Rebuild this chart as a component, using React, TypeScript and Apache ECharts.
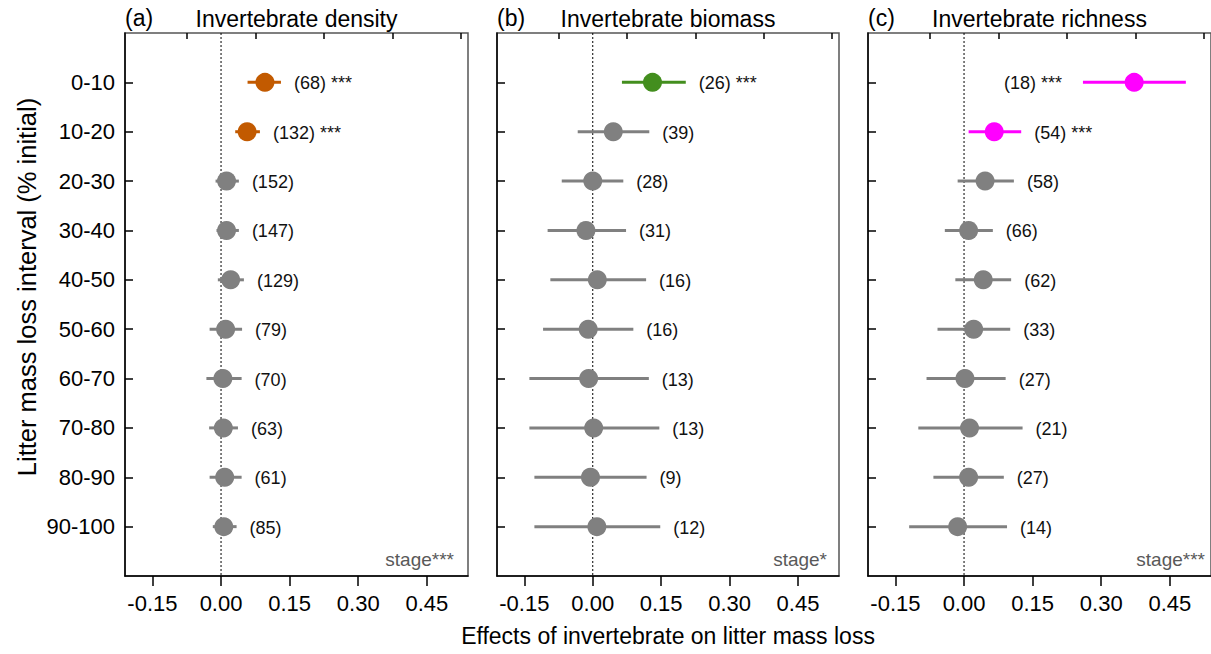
import React, { useEffect, useRef } from 'react';
import * as echarts from 'echarts';

const intervals = ['0-10', '10-20', '20-30', '30-40', '40-50', '50-60', '60-70', '70-80', '80-90', '90-100'];
const panelTags = ['(a)', '(b)', '(c)'];
const panelTitles = ['Invertebrate density', 'Invertebrate biomass', 'Invertebrate richness'];
const stageLabels = ['stage***', 'stage*', 'stage***'];
const majorTicks = [-0.15, 0, 0.15, 0.3, 0.45];
const minorTicks = [-0.075, 0.075, 0.225, 0.375, 0.525];
const rowPositions = [1, 2, 3, 4, 5, 6, 7, 8, 9, 10];

const densityMean = [0.096, 0.057, 0.012, 0.012, 0.021, 0.010, 0.004, 0.005, 0.008, 0.006];
const densityLower = [0.058, 0.031, -0.012, -0.010, -0.007, -0.025, -0.032, -0.026, -0.025, -0.018];
const densityUpper = [0.131, 0.085, 0.039, 0.039, 0.050, 0.046, 0.045, 0.037, 0.045, 0.034];
const densityN = [68, 132, 152, 147, 129, 79, 70, 63, 61, 85];
const densitySig = ['***', '***', '', '', '', '', '', '', '', ''];

const biomassMean = [0.131, 0.045, 0.000, -0.015, 0.010, -0.010, -0.009, 0.002, -0.005, 0.009];
const biomassLower = [0.064, -0.033, -0.068, -0.099, -0.093, -0.109, -0.139, -0.139, -0.128, -0.128];
const biomassUpper = [0.204, 0.124, 0.067, 0.073, 0.117, 0.089, 0.123, 0.146, 0.118, 0.148];
const biomassN = [26, 39, 28, 31, 16, 16, 13, 13, 9, 12];
const biomassSig = ['***', '', '', '', '', '', '', '', '', ''];

const richnessMean = [0.372, 0.066, 0.046, 0.010, 0.042, 0.021, 0.002, 0.012, 0.010, -0.014];
const richnessLower = [0.260, 0.010, -0.014, -0.042, -0.019, -0.058, -0.082, -0.100, -0.067, -0.120];
const richnessUpper = [0.485, 0.125, 0.109, 0.063, 0.103, 0.101, 0.091, 0.128, 0.087, 0.094];
const richnessN = [18, 54, 58, 66, 62, 33, 27, 21, 27, 14];
const richnessSig = ['***', '***', '', '', '', '', '', '', '', ''];

const FONT = '"Liberation Sans", Arial, Helvetica, sans-serif';
const GREY = '#808080';
const sigColors = ['#C25A00', '#438E1E', '#FF00FF'];

const panels = [
  { mean: densityMean, lower: densityLower, upper: densityUpper, n: densityN, sig: densitySig },
  { mean: biomassMean, lower: biomassLower, upper: biomassUpper, n: biomassN, sig: biomassSig },
  { mean: richnessMean, lower: richnessLower, upper: richnessUpper, n: richnessN, sig: richnessSig },
];

const gridRects = [
  { left: 125, width: 343 },
  { left: 497, width: 342 },
  { left: 868, width: 343 },
];
const TOP = 33;
const HEIGHT = 543;
const stageInsets = [14, 12, 6];

export default function App() {
  const ref = useRef<HTMLDivElement>(null);

  useEffect(() => {
    document.body.style.margin = '0';
    if (!ref.current) return;
    const chart = echarts.init(ref.current, undefined, { renderer: 'svg' });

    const grid: any[] = [];
    const xAxis: any[] = [];
    const yAxis: any[] = [];
    const series: any[] = [];
    const graphic: any[] = [];

    panels.forEach((p, k) => {
      const g = gridRects[k];
      grid.push({
        left: g.left, top: TOP, width: g.width, height: HEIGHT,
        show: true, borderColor: '#555', borderWidth: 1.5, backgroundColor: 'transparent',
      });
      xAxis.push({
        type: 'value', gridIndex: k, min: -0.21, max: 0.54, position: 'bottom',
        axisLine: { show: true, onZero: false, lineStyle: { color: '#000', width: 1.5 } },
        axisTick: { show: true, customValues: majorTicks, length: 10, inside: false, lineStyle: { color: '#000', width: 1.5 } },
        axisLabel: {
          show: true, customValues: majorTicks, formatter: (v: number) => v.toFixed(2),
          fontSize: 22, color: '#000', fontFamily: FONT, margin: 16,
        },
        splitLine: { show: false },
      });
      xAxis.push({
        type: 'value', gridIndex: k, min: -0.21, max: 0.54, position: 'bottom',
        axisLine: { show: false },
        axisTick: { show: true, customValues: minorTicks, length: 6, inside: false, lineStyle: { color: '#000', width: 1.5 } },
        axisLabel: { show: false },
        splitLine: { show: false },
      });
      yAxis.push({
        type: 'value', gridIndex: k, min: 0, max: 11, inverse: true,
        axisLine: { show: true, onZero: false, lineStyle: { color: '#000', width: 1.5 } },
        axisTick: { show: true, customValues: rowPositions, inside: true, length: 8, lineStyle: { color: '#000', width: 1.5 } },
        axisLabel: {
          show: k === 0, customValues: rowPositions, formatter: (v: number) => intervals[Math.round(v) - 1] || '',
          fontSize: 22, color: '#000', fontFamily: FONT, margin: 10,
        },
        splitLine: { show: false },
      });

      series.push({
        type: 'line', xAxisIndex: k * 2, yAxisIndex: k, z: 1,
        data: [[0, 0], [0, 11]], symbol: 'none', silent: true,
        lineStyle: { color: '#000', width: 1, type: [2, 2] },
      });

      const data = p.mean.map((m, i) => [m, rowPositions[i], p.lower[i], p.upper[i]]);
      series.push({
        type: 'custom', xAxisIndex: k * 2, yAxisIndex: k, z: 3,
        data,
        encode: { x: [0, 2, 3], y: 1 },
        renderItem: (params: any, api: any) => {
          const i = params.dataIndex;
          const y = api.value(1);
          const pm = api.coord([api.value(0), y]);
          const pl = api.coord([api.value(2), y]);
          const ph = api.coord([api.value(3), y]);
          const sig = p.sig[i];
          const color = sig ? sigColors[k] : GREY;
          const text = `(${p.n[i]})` + (sig ? ' ' + sig : '');
          const cs = params.coordSys;
          const estWidth = text.length * 8.5;
          const gap = 13;
          let tx = ph[0] + gap;
          let align = 'left';
          if (tx + estWidth > cs.x + cs.width) {
            tx = pl[0] - gap - 8;
            align = 'right';
          }
          return {
            type: 'group',
            children: [
              { type: 'line', shape: { x1: pl[0], y1: pl[1], x2: ph[0], y2: ph[1] }, style: { stroke: color, lineWidth: 3 } },
              { type: 'circle', shape: { cx: pm[0], cy: pm[1], r: 9.5 }, style: { fill: color } },
              {
                type: 'text', x: tx, y: pm[1] + 1,
                style: { text, fill: '#111', fontSize: 18, fontFamily: FONT, align, verticalAlign: 'middle' },
              },
            ],
          };
        },
      });

      graphic.push({
        type: 'text', left: g.left, top: 6,
        style: { text: panelTags[k], fontSize: 23, fontFamily: FONT, fill: '#000' },
      });
      graphic.push({
        type: 'text', x: g.left + g.width / 2, y: 19,
        style: { text: panelTitles[k], fontSize: 23, fontFamily: FONT, fill: '#000', align: 'center', verticalAlign: 'middle' },
      });
      graphic.push({
        type: 'text', x: g.left + g.width - stageInsets[k], y: 559,
        style: { text: stageLabels[k], fontSize: 19, fontFamily: FONT, fill: '#595959', align: 'right', verticalAlign: 'middle' },
      });
    });

    graphic.push({
      type: 'text', x: 668, y: 636,
      style: { text: 'Effects of invertebrate on litter mass loss', fontSize: 23, fontFamily: FONT, fill: '#000', align: 'center', verticalAlign: 'middle' },
    });
    graphic.push({
      type: 'text', x: 27, y: 287, rotation: Math.PI / 2,
      style: { text: 'Litter mass loss interval (% initial)', fontSize: 25.5, fontFamily: FONT, fill: '#000', align: 'center', verticalAlign: 'middle' },
    });

    chart.setOption({
      animation: false,
      backgroundColor: '#fff',
      grid, xAxis, yAxis, series, graphic,
    });

    return () => chart.dispose();
  }, []);

  return <div ref={ref} style={{ width: 1211, height: 654 }} />;
}
